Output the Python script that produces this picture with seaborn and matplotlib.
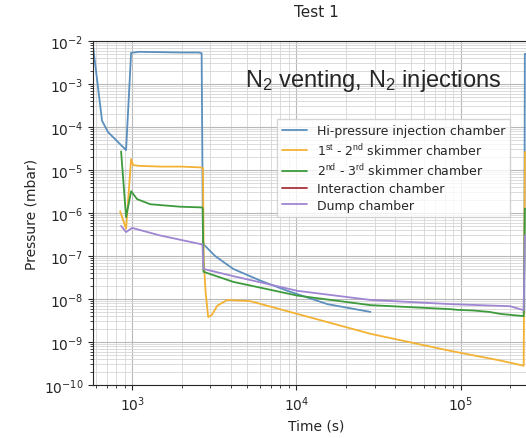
import numpy as np
import pandas as pd
import matplotlib
matplotlib.use('Agg')
import matplotlib.pyplot as plt
import matplotlib.ticker as mticker
import seaborn as sns

# 各腔室压力数据
hi_t = [570, 656, 714, 919, 986, 1100, 1500, 2000, 2550, 2650, 2700, 2750, 3200, 4130, 6000, 8820, 15450, 28270]
hi_p = [1.2e-2, 1.4e-4, 7.6e-5, 2.9e-5, 5.3e-3, 5.6e-3, 5.5e-3, 5.4e-3, 5.4e-3, 5.2e-3, 2.2e-7, 1.8e-7, 1.0e-7, 5.0e-8, 2.7e-8, 1.55e-8, 7.6e-9, 5.0e-9]
hi_t2 = [244000, 246000, 300000]
hi_p2 = [5.0e-9, 5.0e-3, 5.0e-3]

sk12_t = [845, 919, 986, 1014, 1100, 1500, 2000, 2600, 2700, 2730, 2800, 2905, 3050, 3300, 3797, 5245, 10140, 28270, 86900, 175000, 242000, 246000, 300000]
sk12_p = [1.1e-6, 4.3e-7, 1.8e-5, 1.3e-5, 1.25e-5, 1.2e-5, 1.2e-5, 1.15e-5, 1.1e-5, 8e-8, 1.5e-8, 3.8e-9, 4.2e-9, 7e-9, 9.5e-9, 8.9e-9, 4.5e-9, 1.55e-9, 6.2e-10, 3.7e-10, 2.8e-10, 2.6e-5, 2.6e-5]

sk23_t = [857, 919, 986, 1073, 1288, 1963, 2650, 2690, 2720, 4130, 10140, 28270, 86900, 95000, 120000, 150000, 175000, 242000, 246000, 300000]
sk23_p = [2.7e-5, 8.0e-7, 3.2e-6, 2.1e-6, 1.6e-6, 1.4e-6, 1.35e-6, 1.3e-6, 4.3e-8, 2.5e-8, 1.2e-8, 7.2e-9, 5.8e-9, 5.6e-9, 5.4e-9, 5.0e-9, 4.5e-9, 4.0e-9, 1.25e-6, 1.25e-6]

dump_t = [857, 919, 1000, 1482, 2601, 2680, 2720, 4130, 10140, 28270, 86900, 200000, 242000, 246000, 300000]
dump_p = [5.0e-7, 3.6e-7, 4.5e-7, 3.0e-7, 1.9e-7, 1.85e-7, 5.0e-8, 3.4e-8, 1.55e-8, 9.5e-9, 7.6e-9, 6.8e-9, 5.5e-9, 3.0e-7, 3.0e-7]

labels = ['Hi-pressure injection chamber',
          r'1$^{\rm st}$ - 2$^{\rm nd}$ skimmer chamber',
          r'2$^{\rm nd}$ - 3$^{\rm rd}$ skimmer chamber',
          'Interaction chamber',
          'Dump chamber']
colors = ['#5b8fbd', '#f3b234', '#3d9a3d', '#a8323a', '#9f86d2']

# 组装长表
frames = [
    pd.DataFrame({'t': hi_t, 'p': hi_p, 'chamber': labels[0], 'seg': 'a'}),
    pd.DataFrame({'t': hi_t2, 'p': hi_p2, 'chamber': labels[0], 'seg': 'b'}),
    pd.DataFrame({'t': sk12_t, 'p': sk12_p, 'chamber': labels[1], 'seg': 'a'}),
    pd.DataFrame({'t': sk23_t, 'p': sk23_p, 'chamber': labels[2], 'seg': 'a'}),
    pd.DataFrame({'t': dump_t, 'p': dump_p, 'chamber': labels[4], 'seg': 'a'}),
]
df = pd.concat(frames, ignore_index=True)
df['unit'] = df['chamber'] + df['seg']

sns.set_style('ticks')
plt.rcParams['mathtext.fontset'] = 'custom'
plt.rcParams['mathtext.rm'] = 'Liberation Sans'
plt.rcParams['mathtext.it'] = 'Liberation Sans:italic'

fig = plt.figure(figsize=(5.26, 4.39), dpi=100)
ax = fig.add_axes([93 / 526, 53 / 439, (539 - 93) / 526, 344 / 439])

sns.lineplot(data=df, x='t', y='p', hue='chamber', hue_order=labels,
             palette=dict(zip(labels, colors)), units='unit', estimator=None,
             sort=False, linewidth=1.3, ax=ax)

ax.set_xscale('log')
ax.set_yscale('log')
ax.set_xlim(578, 3.0e5)
ax.set_ylim(1e-10, 1e-2)
ax.yaxis.set_major_locator(mticker.LogLocator(base=10, numticks=20))
ax.yaxis.set_minor_locator(mticker.LogLocator(base=10, subs=np.arange(2, 10), numticks=100))
ax.xaxis.set_minor_locator(mticker.LogLocator(base=10, subs=np.arange(2, 10), numticks=100))
ax.yaxis.set_minor_formatter(mticker.NullFormatter())
ax.xaxis.set_minor_formatter(mticker.NullFormatter())
ax.grid(which='major', color='#b8b8b8', linewidth=0.8)
ax.grid(which='minor', color='#d6d6d6', linewidth=0.6)
ax.set_axisbelow(True)

ax.set_xlabel('Time (s)')
ax.set_ylabel('Pressure (mbar)')
ax.set_title('Test 1', pad=18, fontsize=11)

handles, labs = ax.get_legend_handles_labels()
ax.legend(handles, labs, loc='upper right', bbox_to_anchor=(0.95, 0.79),
          fontsize=9, handlelength=2.0, borderpad=0.4, labelspacing=0.3,
          fancybox=False, edgecolor='#cccccc')

ax.text(0.34, 0.886, r'N$_2$ venting, N$_2$ injections', transform=ax.transAxes,
        fontsize=17, family=['Liberation Sans', 'DejaVu Sans'], va='center', ha='left')

fig.savefig('out.png', dpi=100)
plt.close(fig)
